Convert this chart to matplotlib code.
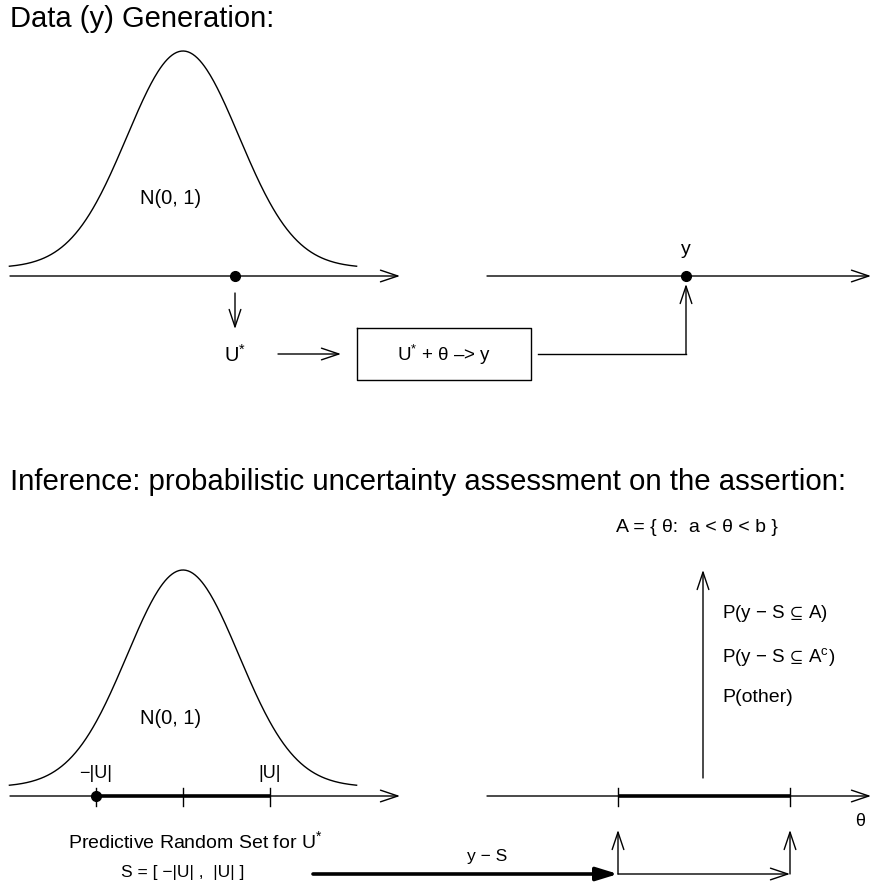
import numpy as np
import matplotlib
matplotlib.use("Agg")
import matplotlib.pyplot as plt

plt.rcParams['font.family'] = ['Liberation Sans', 'DejaVu Sans']
plt.rcParams['mathtext.fontset'] = 'custom'
plt.rcParams['mathtext.rm'] = 'Liberation Sans'
plt.rcParams['mathtext.it'] = 'Liberation Sans'
plt.rcParams['mathtext.fallback'] = 'stixsans'

# layout in pixel units (figure is 872 x 890, y grows downwards)
curve_cx = 183
curve_sigma = 56
curve_height = 217
curve_z = np.linspace(-3.1, 3.1, 300)

top_axis_y = 276
top_base_y = 268
bot_axis_y = 796
bot_base_y = 787

u_star_x = 235          # sampled U*
y_obs_x = 686           # observed y
u_abs = 87              # |U| in pixels
theta_a_x = 618
theta_b_x = 790

box_x = [357, 531]
box_y = [328, 380]

fig = plt.figure(figsize=(8.72, 8.90), dpi=100)
ax = fig.add_axes([0, 0, 1, 1])
ax.set_xlim(0, 872)
ax.set_ylim(890, 0)
ax.axis('off')

K = dict(color='black', lw=1.0)


def arrow(x0, y0, x1, y1, lw=1.0, style='->,head_length=1.25,head_width=0.42'):
    ax.annotate('', xy=(x1, y1), xytext=(x0, y0),
                arrowprops=dict(arrowstyle=style, lw=lw, color='black',
                                shrinkA=0, shrinkB=0, mutation_scale=10))


def bell(base_y):
    xs = curve_cx + curve_z * curve_sigma
    ys = base_y - curve_height * np.exp(-curve_z ** 2 / 2)
    ax.plot(xs, ys, **K)


# ---------- Data generation ----------
ax.text(10, 27, 'Data (y) Generation:', fontsize=21, va='baseline', ha='left')
bell(top_base_y)
ax.text(171, 199, 'N(0, 1)', fontsize=14.5, ha='center', va='center')
arrow(10, top_axis_y, 400, top_axis_y)
ax.plot([u_star_x], [top_axis_y], 'o', color='black', ms=7)
arrow(u_star_x, 293, u_star_x, 329)
ax.text(u_star_x, 355, r'$\mathrm{U^{*}}$', fontsize=14.5, ha='center', va='center')
arrow(278, 354, 341, 354)
ax.plot([box_x[0], box_x[1], box_x[1], box_x[0], box_x[0]],
        [box_y[0], box_y[0], box_y[1], box_y[1], box_y[0]], **K)
ax.text(sum(box_x) / 2, 355, r'$\mathrm{U^{*}}$ + θ –> y', fontsize=13.5,
        ha='center', va='center')
ax.plot([538, y_obs_x], [354, 354], **K)
arrow(y_obs_x, 354, y_obs_x, 284)
arrow(487, top_axis_y, 871, top_axis_y)
ax.plot([y_obs_x], [top_axis_y], 'o', color='black', ms=7)
ax.text(y_obs_x, 250, 'y', fontsize=14, ha='center', va='center')

# ---------- Inference ----------
ax.text(10, 490, 'Inference: probabilistic uncertainty assessment on the assertion:',
        fontsize=21.2, va='baseline', ha='left')
bell(bot_base_y)
ax.text(171, 718, 'N(0, 1)', fontsize=14.5, ha='center', va='center')
arrow(10, bot_axis_y, 400, bot_axis_y)
ax.plot([curve_cx - u_abs, curve_cx + u_abs], [bot_axis_y, bot_axis_y],
        color='black', lw=2.6, solid_capstyle='butt')
for tx in [curve_cx - u_abs, curve_cx, curve_cx + u_abs]:
    ax.plot([tx, tx], [788, 806], **K)
ax.plot([curve_cx - u_abs], [bot_axis_y], 'o', color='black', ms=7)
ax.text(curve_cx - u_abs, 773, '−|U|', fontsize=13, ha='center', va='center')
ax.text(curve_cx + u_abs, 773, '|U|', fontsize=13, ha='center', va='center')
ax.text(195, 841, r'Predictive Random Set for $\mathrm{U^{*}}$', fontsize=14,
        ha='center', va='center')
ax.text(183, 872, 'S = [ −|U| ,  |U| ]', fontsize=12.5, ha='center', va='center')

arrow(313, 874, theta_a_x, 874, lw=2.6, style='-|>,head_length=1.3,head_width=0.4')
ax.text(487, 857, 'y − S', fontsize=12.5, ha='center', va='center')
arrow(theta_a_x, 874, theta_b_x, 874)
arrow(theta_a_x, 874, theta_a_x, 830)
arrow(theta_b_x, 874, theta_b_x, 830)

arrow(487, bot_axis_y, 871, bot_axis_y)
ax.plot([theta_a_x, theta_b_x], [bot_axis_y, bot_axis_y],
        color='black', lw=2.6, solid_capstyle='butt')
for tx in [theta_a_x, theta_b_x]:
    ax.plot([tx, tx], [788, 806], **K)
ax.text(860, 822, 'θ', fontsize=13, ha='center', va='center')

arrow(703, 778, 703, 570)
ax.text(697, 527, 'A = { θ:  a < θ < b }', fontsize=14, ha='center', va='center')
ax.text(722, 613, r'P(y − S$\,\subseteq\,$A)', fontsize=13.5, ha='left', va='center')
ax.text(722, 657, r'P(y − S$\,\subseteq\,$A$^{\rm c}$)', fontsize=13.5, ha='left', va='center')
ax.text(722, 698, 'P(other)', fontsize=14, ha='left', va='center')

fig.savefig('out.png', dpi=100)
